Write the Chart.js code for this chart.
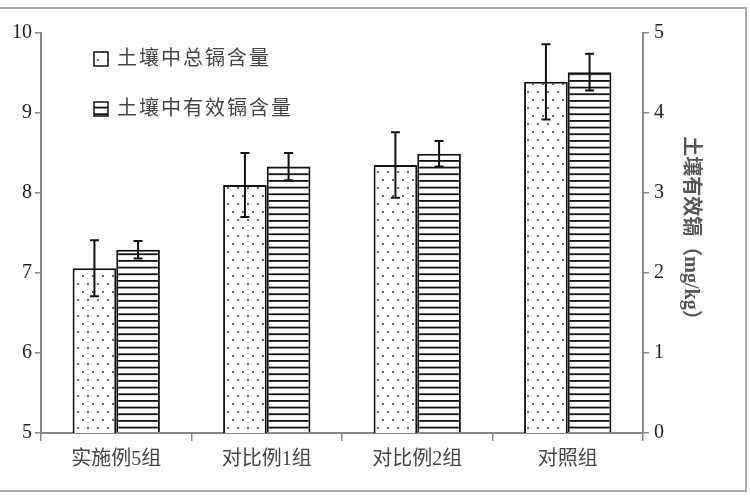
<!DOCTYPE html>
<html>
<head>
<meta charset="utf-8">
<script src="https://cdn.jsdelivr.net/npm/chart.js@4"></script>
<style>
  html, body { margin: 0; padding: 0; background: #fff; }
  #wrap { width: 750px; height: 500px; }
</style>
</head>
<body>
<div id="wrap"><canvas id="myChart"></canvas></div>
<script>
   // Datos del gráfico
   var categories = ['实施例5组', '对比例1组', '对比例2组', '对照组'];
   var totalCd = [7.06, 8.10, 8.35, 9.39];
   var totalErr = [0.35, 0.40, 0.41, 0.47];
   var availCd = [2.29, 3.33, 3.49, 4.51];
   var availErr = [0.11, 0.17, 0.16, 0.23];
   var leftTicks = [5, 6, 7, 8, 9, 10];
   var rightTicks = [0, 1, 2, 3, 4, 5];

   var serif = '"Liberation Serif", "Noto Sans CJK SC", serif';

   // patrón de puntos
   function dotPattern() {
       var c = document.createElement('canvas');
       c.width = 10; c.height = 16;
       var g = c.getContext('2d');
       g.fillStyle = '#fff';
       g.fillRect(0, 0, 10, 16);
       g.fillStyle = '#666';
       g.fillRect(2, 3, 2, 2);
       g.fillRect(7, 11, 2, 2);
       return g.createPattern(c, 'repeat');
   }

   // patrón de rayas horizontales
   function stripePattern() {
       var c = document.createElement('canvas');
       c.width = 10; c.height = 20;
       var g = c.getContext('2d');
       g.fillStyle = '#fff';
       g.fillRect(0, 0, 10, 20);
       g.fillStyle = '#111';
       g.fillRect(0, 0, 10, 1.8);
       g.fillRect(0, 6.67, 10, 1.8);
       g.fillRect(0, 13.33, 10, 1.8);
       return g.createPattern(c, 'repeat');
   }

   var dots = dotPattern();
   var stripes = stripePattern();

   // barras de error
   var errorBars = {
       id: 'errorBars',
       afterDatasetsDraw: function (chart) {
           var ctx = chart.ctx;
           ctx.save();
           ctx.strokeStyle = '#111';
           ctx.lineWidth = 2;
           chart.data.datasets.forEach(function (ds, i) {
               var meta = chart.getDatasetMeta(i);
               var scale = chart.scales[ds.yAxisID];
               meta.data.forEach(function (bar, j) {
                   var v = ds.data[j], e = ds.errors[j];
                   var yTop = scale.getPixelForValue(v + e);
                   var yBot = scale.getPixelForValue(v - e);
                   var x = bar.x;
                   ctx.beginPath();
                   ctx.moveTo(x, yTop); ctx.lineTo(x, yBot);
                   ctx.moveTo(x - 4.5, yTop); ctx.lineTo(x + 4.5, yTop);
                   ctx.moveTo(x - 4.5, yBot); ctx.lineTo(x + 4.5, yBot);
                   ctx.stroke();
               });
           });
           ctx.restore();
       }
   };

   // leyenda dentro del área y marco exterior
   var extras = {
       id: 'extras',
       afterDraw: function (chart) {
           var ctx = chart.ctx;
           ctx.save();
           ctx.strokeStyle = '#aaa';
           ctx.lineWidth = 2;
           ctx.beginPath();
           ctx.moveTo(0, 8); ctx.lineTo(746, 8); ctx.lineTo(746, 491); ctx.lineTo(0, 491);
           ctx.stroke();

           chart.data.datasets.forEach(function (ds, i) {
               var y = 52 + i * 50;
               ctx.fillStyle = ds.backgroundColor;
               ctx.fillRect(94, y, 14, 14);
               ctx.strokeStyle = '#111';
               ctx.lineWidth = 1.5;
               ctx.strokeRect(94, y, 14, 14);
               ctx.fillStyle = '#444';
               ctx.font = '20px ' + serif;
               ctx.letterSpacing = '2px';
               ctx.textBaseline = 'middle';
               ctx.textAlign = 'left';
               ctx.fillText(ds.label, 117, y + 8);
           });
           ctx.restore();
       }
   };

   var ctx = document.getElementById('myChart').getContext('2d');

   var data = {
       labels: categories,
       datasets: [{
           label: '土壤中总镉含量',
           data: totalCd,
           errors: totalErr,
           yAxisID: 'y',
           backgroundColor: dots,
           borderColor: '#111',
           borderWidth: 2,
           categoryPercentage: 0.58,
           barPercentage: 1.0
       }, {
           label: '土壤中有效镉含量',
           data: availCd,
           errors: availErr,
           yAxisID: 'y1',
           backgroundColor: stripes,
           borderColor: '#111',
           borderWidth: 2,
           categoryPercentage: 0.58,
           barPercentage: 1.0
       }]
   };

   var numFont = { family: serif, size: 20 };

   var options = {
       responsive: true,
       maintainAspectRatio: false,
       animation: false,
       layout: { padding: { top: 33, right: 45, left: 0, bottom: 0 } },
       plugins: {
           legend: { display: false },
           tooltip: { enabled: false }
       },
       scales: {
           x: {
               afterFit: function (s) { s.height = 67; },
               grid: { display: true, drawOnChartArea: false, offset: true, tickLength: 8, color: '#888', lineWidth: 1.5 },
               border: { display: true, color: '#888', width: 2 },
               ticks: { font: { family: serif, size: 20 }, color: '#444', padding: 7 }
           },
           y: {
               position: 'left',
               min: 5, max: 10,
               afterFit: function (s) { s.width = 41; },
               afterBuildTicks: function (s) { s.ticks = leftTicks.map(function (v) { return { value: v }; }); },
               grid: { drawOnChartArea: false, tickLength: 6, color: '#888', lineWidth: 1.5 },
               border: { display: true, color: '#888', width: 2 },
               ticks: { font: numFont, color: '#222', padding: 3 }
           },
           y1: {
               position: 'right',
               min: 0, max: 5,
               afterFit: function (s) { s.width = 62; },
               afterBuildTicks: function (s) { s.ticks = rightTicks.map(function (v) { return { value: v }; }); },
               grid: { drawOnChartArea: false, tickLength: 6, color: '#888', lineWidth: 1.5 },
               border: { display: true, color: '#888', width: 2 },
               ticks: { font: numFont, color: '#222', padding: 5 },
               title: {
                   display: true,
                   text: '土壤有效镉（mg/kg）',
                   font: { family: serif, size: 20, weight: 'bold' },
                   color: '#555',
                   padding: 3
               }
           }
       }
   };

   var myChart = new Chart(ctx, {
       type: 'bar',
       data: data,
       options: options,
       plugins: [errorBars, extras]
   });
</script>
</body>
</html>
